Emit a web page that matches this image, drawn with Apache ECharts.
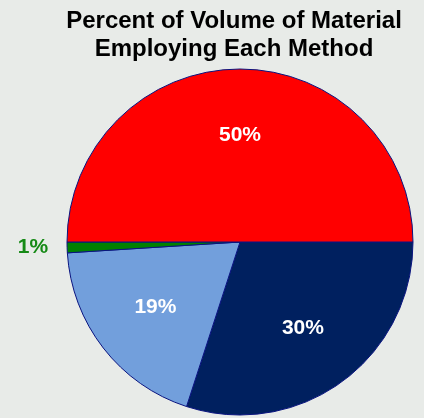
<!DOCTYPE html>
<html>
<head>
<meta charset="utf-8">
<script src="https://cdn.jsdelivr.net/npm/echarts@6/dist/echarts.min.js"></script>
<style>
  html, body { margin: 0; padding: 0; background: #e8ebe8; }
  #chart { width: 424px; height: 418px; }
</style>
</head>
<body>
<div id="chart"></div>
<script>
// Share of material volume handled by each method (percent), clockwise from 3 o'clock
const methods = ['Method A', 'Method B', 'Method C', 'Method D'];
const shares = [30, 19, 1, 50];
const sliceColors = ['#00205f', '#729fdc', '#008000', '#ff0000'];
const titleLines = ['Percent of Volume of Material', 'Employing Each Method'];

const FONT = '"Liberation Sans", Arial, sans-serif';
const CENTER = [240, 242];
const RADIUS = 173;

const chart = echarts.init(document.getElementById('chart'), null, { renderer: 'canvas' });

// Slice fills; only the tiny slice carries an outside label
const sliceData = methods.map((name, i) => {
  const small = shares[i] < 5;
  return {
    name,
    value: shares[i],
    itemStyle: { color: sliceColors[i] },
    label: small ? {
      show: true,
      position: 'outside',
      formatter: '{c}%',
      color: '#168a16',
      fontSize: 21,
      fontWeight: 'bold',
      fontFamily: FONT
    } : { show: false },
    labelLine: { show: false, length: 8, length2: 6 }
  };
});

// Transparent ring over the slices that places the large labels at ~60% radius
const labelData = methods.map((name, i) => ({
  name,
  value: shares[i],
  label: { show: shares[i] >= 5 }
}));

chart.setOption({
  backgroundColor: '#e8ebe8',
  animation: false,
  title: {
    text: titleLines.join('\n'),
    left: 229,
    top: 2,
    textAlign: 'center',
    textStyle: {
      fontFamily: FONT,
      fontSize: 24,
      fontWeight: 'bold',
      color: '#000000',
      lineHeight: 28.5
    }
  },
  series: [
    {
      type: 'pie',
      center: CENTER,
      radius: RADIUS,
      startAngle: 0,
      clockwise: true,
      minAngle: 0,
      avoidLabelOverlap: false,
      silent: true,
      itemStyle: { borderColor: '#0a1480', borderWidth: 1 },
      label: { show: false },
      data: sliceData
    },
    {
      type: 'pie',
      center: CENTER,
      radius: [35, RADIUS],
      startAngle: 0,
      clockwise: true,
      silent: true,
      avoidLabelOverlap: false,
      itemStyle: { color: 'rgba(0,0,0,0)', borderWidth: 0 },
      label: {
        position: 'inside',
        formatter: '{c}%',
        color: '#ffffff',
        fontSize: 21,
        fontWeight: 'bold',
        fontFamily: FONT
      },
      labelLine: { show: false },
      data: labelData
    }
  ]
});
</script>
</body>
</html>
